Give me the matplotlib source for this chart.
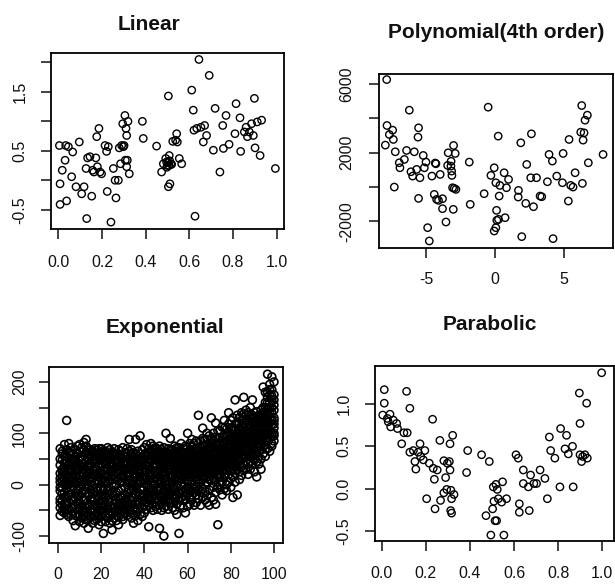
import matplotlib
matplotlib.use("Agg")
import matplotlib.pyplot as plt

plt.rcParams['font.family'] = ['Liberation Sans', 'DejaVu Sans']

# ---- Linear ----
lin_x = [0.005, 0.008, 0.008, 0.018, 0.031, 0.034, 0.038, 0.046, 0.061, 0.066,
         0.081, 0.096, 0.107, 0.118, 0.127, 0.130, 0.134, 0.145, 0.153, 0.157,
         0.163, 0.172, 0.176, 0.179, 0.186, 0.191, 0.198, 0.214, 0.221, 0.224,
         0.229, 0.241, 0.252, 0.260, 0.264, 0.275, 0.279, 0.285, 0.290, 0.295,
         0.298, 0.301, 0.305, 0.307, 0.310, 0.313, 0.313, 0.316, 0.319, 0.325,
         0.385, 0.389, 0.450, 0.473, 0.481, 0.492, 0.496, 0.499, 0.504, 0.504,
         0.507, 0.508, 0.511, 0.515, 0.519, 0.524, 0.537, 0.542, 0.545, 0.554,
         0.565, 0.611, 0.618, 0.621, 0.626, 0.634, 0.644, 0.653, 0.664, 0.670,
         0.679, 0.691, 0.710, 0.718, 0.740, 0.753, 0.756, 0.768, 0.782, 0.809,
         0.814, 0.832, 0.835, 0.852, 0.860, 0.866, 0.875, 0.885, 0.893, 0.898,
         0.901, 0.911, 0.924, 0.931, 0.994, 0.503, 0.497, 0.510]
lin_y = [0.59, -0.06, -0.41, 0.17, 0.34, 0.59, -0.35, 0.57, 0.06, 0.48,
         -0.11, 0.65, -0.23, -0.11, 0.20, -0.65, 0.38, 0.40, -0.27, 0.17,
         0.14, 0.38, 0.74, 0.23, 0.88, 0.14, 0.11, 0.59, 0.49, -0.19,
         0.57, -0.71, 0.20, 0.00, -0.30, 0.00, 0.55, 0.28, 0.59, 0.96,
         0.57, 0.59, 1.10, 0.34, 0.88, 0.76, 0.23, 0.34, 1.00, 0.11,
         1.00, 0.71, 0.58, 0.14, 0.28, 0.37, 0.31, 0.25, 1.43, -0.11,
         0.25, 0.42, -0.06, 0.28, 0.27, 0.66, 0.68, 0.79, 0.65, 0.37,
         0.28, 1.53, 1.19, 0.85, -0.61, 0.88, 2.05, 0.90, 0.65, 0.93,
         0.76, 1.78, 0.51, 1.22, 0.14, 0.93, 0.54, 1.10, 0.61, 0.79,
         1.30, 1.06, 0.49, 0.82, 0.90, 0.74, 0.82, 0.96, 0.76, 1.39,
         0.55, 0.99, 0.42, 1.02, 0.20, 0.30, 0.22, 0.33]

# ---- Polynomial(4th order) ----
poly_x = [-7.87, -7.85, -7.97, -7.68, -7.44, -7.39, -7.25, -7.32, -6.96, -6.91,
          -6.59, -6.43, -6.23, -6.11, -5.99, -5.87, -5.70, -5.56, -5.60, -5.46,
          -5.56, -5.22, -5.14, -5.02, -4.90, -4.78, -4.59, -4.42, -4.30, -4.25,
          -4.11, -3.99, -3.82, -3.82, -3.57, -3.45, -3.41, -3.21, -3.16, -3.14,
          -3.09, -3.04, -3.02, -2.97, -2.90, -2.85, -1.88, -1.81, -0.80, -0.51,
          -0.31, -0.07, -0.07, 0.05, 0.05, 0.10, 0.12, 0.22, 0.24, 0.29,
          0.34, 0.65, 0.72, 0.82, 0.97, 1.69, 1.67, 1.86, 1.93, 2.22,
          2.29, 2.58, 2.63, 2.78, 3.00, 3.26, 3.38, 3.79, 3.91, 4.15,
          4.20, 4.47, 4.88, 4.93, 5.31, 5.36, 5.48, 5.65, 5.80, 6.21,
          6.28, 6.33, 6.38, 6.52, 6.69, 6.76, 7.83, 6.45, -4.35, -3.20]
poly_y = [6256, 3583, 2441, 3060, 3312, 2770, 2053, 0, 1414, 1123,
          1608, 2131, 4475, 891, 639, 2053, 1027, 3448, 2906, 542,
          -659, 1840, 1123, 1453, -2363, -3138, 639, -426, 1356, -717,
          -775, 736, -678, -1259, -2034, 1259, 1995, 1220, 930, 678,
          -39, -1298, 2421, -77, 1956, -136, 1453, -1007, -387, 4649,
          678, 1123, -2557, -2363, 252, -1356, -1937, 2964, -1879, -523,
          97, 833, -1782, -39, 446, -194, -581, 2576, -2886, -949,
          1317, 542, 3099, -1143, 542, -523, -562, 310, 1898, 1511,
          -3002, 639, 252, 1956, -814, 2770, 97, 0, 833, 3196,
          4746, 213, 2731, 3893, 4184, 1414, 1898, 3157, 1400, 1500]

# ---- Exponential: readings at each x = 1..100 ----
exp_rows = [
    [-45, -12, 38, 5, -60, 22, 70, -28, 12, -35, 50, -5],
    [15, -52, 60, -5, 30, -30, 48, -18, -40, 8, 65, 25],
    [-38, 78, 2, -55, 25, 42, -15, 10, 55, -25, 32, -48],
    [55, -25, -48, 12, 35, -8, 125, 68, -35, 20, 45, -58],
    [-20, 40, -62, 18, 80, 0, -35, 52, 28, -48, 10, 62],
    [28, -45, 8, 62, -18, 45, -58, 72, -30, 15, 38, -10],
    [-55, 12, 50, -30, 35, -5, 20, -70, 42, -42, 60, 5],
    [48, -80, 2, 30, -40, 68, -15, 15, -60, 55, -25, 35],
    [-62, 25, 75, -22, 5, 42, -48, 60, -10, 30, -35, 12],
    [18, -35, 78, -8, 52, -58, 30, -72, 40, -20, 65, -45],
    [-25, 55, -65, 10, 72, -40, 35, 0, -52, 22, 48, -15],
    [40, -50, -12, 82, 22, -75, 5, 58, -30, 68, -60, 30],
    [-68, 15, 88, -30, 45, -5, 62, -45, 28, -55, 8, 75],
    [10, -58, 35, -20, 70, -85, 50, -2, -40, 22, 60, -68],
    [-40, 68, -10, 25, -62, 42, 5, -28, 55, -50, 15, 35],
    [55, -30, 12, -75, 30, -8, 65, -52, -18, 45, -40, 20],
    [-15, 48, -60, 20, -38, 60, 2, -70, 35, -28, 70, -48],
    [30, -68, 45, -5, 68, -42, 18, -22, -55, 55, -12, 8],
    [-50, 5, 62, -28, 38, -78, 15, 50, -35, 25, -62, 70],
    [22, -45, -8, 70, -62, 35, -20, 55, -38, 10, 48, -72],
    [-95, 10, 58, -35, 28, -55, 45, -12, 65, -25, 20, -45],
    [40, -60, 5, 65, -25, 20, -72, 52, -40, 30, -8, 60],
    [-30, 72, -48, 15, 48, -10, 30, -65, 58, -20, 5, -55],
    [60, -20, 35, -75, 8, 50, -40, 25, -58, 42, -12, 68],
    [-55, 28, -15, 62, -88, 40, 2, -32, 50, -45, 18, -70],
    [18, -45, 55, -5, 70, -65, 30, -22, 42, -38, 62, 0],
    [-70, 42, 0, 60, -30, 22, -50, 48, -15, 35, -60, 12],
    [35, -12, -62, 25, 55, -40, 10, -78, 45, -28, 68, -50],
    [-25, 58, -45, 15, 40, -8, 65, -58, 28, -35, 5, 50],
    [50, -35, 20, -68, 30, 5, -50, 72, -22, 42, -62, 15],
    [-40, 12, 62, -20, 45, -55, 28, -5, 55, -30, 38, -48],
    [25, -60, 40, -15, 70, -35, 55, 8, -45, 18, 62, -25],
    [-50, 35, -8, 88, -28, 18, -45, 52, 5, -38, 30, 65],
    [10, -38, 58, -55, 30, -12, 45, -65, 40, -25, 68, -2],
    [-75, 48, 15, -25, 62, -45, 5, 38, -58, 28, -10, 52],
    [32, -18, 88, -60, 20, -38, 52, -5, 42, -50, 15, 60],
    [-30, 55, -48, 10, 42, -70, 25, 65, -15, 35, -40, 0],
    [45, -8, 30, -58, 15, 60, -35, 95, 50, -22, 5, 38],
    [-22, 38, -62, 50, -10, 25, -45, 68, 12, -32, 55, -5],
    [58, -40, 18, -20, 72, 2, -55, 40, 28, -30, 48, 10],
    [-35, 28, 62, -15, 45, -48, 12, 78, -25, 38, 0, 55],
    [20, -25, 50, -82, 35, -5, 70, -40, 8, 58, -18, 42],
    [-15, 62, 5, -45, 80, 30, -30, 48, 18, -8, 65, 25],
    [40, -38, 22, 68, -10, 55, -50, 12, 35, -20, 75, 0],
    [-28, 15, 72, -42, 35, 0, 58, -18, 48, 25, -35, 62],
    [65, -48, 25, 8, -30, 48, -12, 38, 55, -5, 20, 70],
    [-40, 30, -5, 62, 15, -22, 75, -85, 42, 5, -30, 52],
    [50, -18, 38, -50, 68, 5, -35, 22, 58, -8, 30, -25],
    [-100, 28, -25, 55, 10, 42, -45, 72, 18, -12, 62, 35],
    [35, -30, 62, 0, -12, 48, 100, -42, 20, 55, -22, 8],
    [-20, 45, 15, -48, 70, 28, -8, 55, 38, 0, -30, 62],
    [58, -35, 30, 90, -15, 42, 5, -28, 68, 18, 48, -5],
    [-45, 20, 68, 5, 40, -22, 52, -5, 28, 60, -35, 15],
    [25, -28, 48, -50, 75, 12, -10, 38, 55, -20, 30, 65],
    [-38, 58, 10, 30, -20, 65, 40, -58, 22, 48, 0, 72],
    [-95, 22, 50, -12, 35, 72, -30, 8, 58, 40, -18, 25],
    [45, -25, 18, 62, -40, 30, 0, 80, 38, -10, 55, 12],
    [-15, 55, -45, 28, 70, -5, 42, 15, 60, 22, -30, 48],
    [38, -30, 62, 10, -55, 48, 22, -10, 75, 30, 55, -22],
    [100, -42, 30, 55, -18, 8, 72, 40, 20, -5, 62, 35],
    [-25, 48, 15, 68, -5, 35, -38, 58, 28, 80, 5, 45],
    [32, -12, 75, 5, 50, -30, 22, 88, 40, 60, -20, 15],
    [-40, 60, 20, -15, 40, 80, 0, 45, 68, 25, 52, -8],
    [55, -20, 35, 70, -35, 15, 58, -5, 30, 85, 42, 10],
    [135, 10, -28, 48, 25, 65, -10, 40, 72, 18, 55, 30],
    [-15, 72, 30, 52, -40, 18, 85, 5, 45, 62, 25, 38],
    [40, -25, 62, 10, 110, -8, 45, 28, 75, 55, 15, 90],
    [-30, 50, 18, 75, -12, 38, 65, 0, 88, 28, 55, 42],
    [25, -35, 58, 5, 88, 42, -20, 70, 35, 15, 100, 50],
    [-10, 45, 80, 20, -40, 60, 30, 95, 52, 10, 70, 38],
    [55, 10, -25, 72, 38, 130, 18, 48, 90, 62, 28, 80],
    [-5, 65, 30, 85, 12, -30, 50, 100, 40, 75, 22, 58],
    [40, -15, 78, 25, 58, 5, 120, -38, 92, 45, 68, 30],
    [-78, 62, 20, 45, 90, -5, 35, 70, 52, 105, 28, 80],
    [30, 80, -10, 55, 15, 105, 42, 0, 68, 92, 48, 22],
    [65, 5, 40, 92, 25, -20, 75, 50, 112, 35, 85, 58],
    [15, 58, -8, 82, 35, 110, 48, 20, 95, 68, 40, 125],
    [45, 95, 28, 62, 0, 75, 38, -12, 85, 55, 108, 70],
    [70, 20, 88, 50, 140, 35, 5, 60, 100, 78, 45, 118],
    [30, 100, 55, 12, 78, -5, 42, 125, 90, 65, 110, 48],
    [60, 15, 85, 40, -25, 110, 52, 28, 95, 72, 130, 45],
    [95, 35, 65, 165, 22, 75, 5, 48, 118, 88, 55, 105],
    [40, 118, -20, 80, 58, 30, 100, 68, 135, 90, 50, 75],
    [72, 25, 92, 48, 130, 10, 60, 85, 108, 38, 120, 98],
    [50, 105, 35, 78, 18, 140, 65, 95, 115, 82, 125, 58],
    [88, 40, 170, 60, 120, 28, 75, 102, 138, 92, 55, 110],
    [55, 135, 80, 30, 98, 65, 145, 45, 112, 85, 125, 70],
    [110, 70, 40, 125, 85, 20, 95, 60, 140, 100, 78, 118],
    [75, 150, 45, 100, 130, 65, 115, 30, 88, 122, 58, 105],
    [165, 90, 55, 120, 75, 105, 40, 135, 98, 80, 128, 62],
    [60, 118, 85, 140, 25, 98, 70, 125, 105, 88, 132, 48],
    [100, 45, 130, 80, 112, 15, 90, 60, 120, 72, 142, 95],
    [75, 135, 55, 105, 88, 122, 40, 95, 110, 65, 128, 80],
    [125, 68, 110, 50, 145, 85, 100, 30, 118, 92, 135, 75],
    [190, 90, 130, 60, 115, 75, 150, 100, 140, 82, 120, 108],
    [70, 140, 105, 180, 85, 125, 55, 160, 118, 98, 150, 130],
    [215, 110, 160, 85, 135, 70, 180, 120, 148, 100, 170, 128],
    [120, 195, 90, 150, 175, 65, 140, 105, 160, 128, 185, 98],
    [210, 100, 165, 80, 140, 118, 185, 75, 150, 125, 172, 95],
    [95, 175, 130, 110, 155, 200, 85, 118, 145, 100, 165, 125],
]
exp_x = []
exp_y = []
for i, row in enumerate(exp_rows):
    for v in row:
        exp_x.append(i + 1)
        exp_y.append(v)

# ---- Parabolic ----
par_x = [0.012, 0.012, 0.005, 0.026, 0.038, 0.030, 0.041, 0.053, 0.068, 0.072,
         0.101, 0.116, 0.113, 0.128, 0.091, 0.128, 0.144, 0.151, 0.155, 0.166,
         0.174, 0.177, 0.189, 0.196, 0.204, 0.216, 0.231, 0.234, 0.239, 0.242,
         0.252, 0.264, 0.267, 0.282, 0.282, 0.290, 0.295, 0.298, 0.307, 0.310,
         0.310, 0.313, 0.317, 0.314, 0.317, 0.322, 0.328, 0.385, 0.390, 0.453,
         0.473, 0.488, 0.495, 0.503, 0.506, 0.509, 0.514, 0.518, 0.521, 0.524,
         0.529, 0.544, 0.548, 0.554, 0.566, 0.609, 0.619, 0.624, 0.624, 0.642,
         0.642, 0.665, 0.669, 0.675, 0.690, 0.702, 0.718, 0.740, 0.751, 0.760,
         0.766, 0.785, 0.808, 0.811, 0.831, 0.838, 0.846, 0.865, 0.868, 0.896,
         0.899, 0.899, 0.906, 0.911, 0.921, 0.929, 0.932, 0.997]
par_y = [1.17, 1.01, 0.87, 0.83, 0.88, 0.79, 0.73, 0.81, 0.77, 0.71,
         0.66, 0.66, 1.15, 0.95, 0.53, 0.43, 0.45, 0.32, 0.23, 0.43,
         0.53, 0.38, 0.34, 0.45, -0.12, 0.30, 0.82, 0.24, 0.11, -0.24,
         0.22, 0.57, -0.14, 0.33, -0.05, 0.13, -0.01, 0.30, 0.32, 0.53,
         0.22, -0.26, -0.12, -0.02, -0.29, 0.63, -0.07, 0.19, 0.45, 0.40,
         -0.32, 0.32, -0.55, -0.24, 0.02, -0.15, -0.38, 0.05, -0.38, -0.01,
         -0.12, -0.16, 0.08, -0.55, -0.12, 0.40, 0.36, -0.18, -0.28, 0.22,
         0.06, 0.02, -0.26, 0.16, 0.06, 0.06, 0.22, 0.12, -0.12, 0.61,
         0.45, 0.36, 0.02, 0.71, 0.47, 0.63, 0.41, 0.50, 0.02, 1.13,
         0.77, 0.40, 0.32, 0.38, 0.40, 1.01, 0.36, 1.37]

W, H = 615, 586
fig = plt.figure(figsize=(W / 100, H / 100), dpi=100)


def panel(box, xs, ys, xlim, ylim, xticks, xlabels, yticks, ylabels, xpad, ypad,
          msize=28, mlw=1.0):
    left, top, right, bottom = box
    ax = fig.add_axes([left / W, 1 - bottom / H, (right - left) / W, (bottom - top) / H])
    ax.scatter(xs, ys, s=msize, facecolors='none', edgecolors='black', linewidths=mlw)
    ax.set_xlim(xlim)
    ax.set_ylim(ylim)
    ax.set_xticks(xticks)
    ax.set_xticklabels(xlabels)
    ax.set_yticks(yticks)
    ax.set_yticklabels(ylabels, rotation=90, va='center')
    ax.tick_params(axis='x', length=7, width=1.1, labelsize=11.5, pad=xpad, colors='#111')
    ax.tick_params(axis='y', length=7, width=1.1, labelsize=11.5, pad=ypad, colors='#111')
    for s in ax.spines.values():
        s.set_linewidth(1.3)
    return ax


panel((51, 53, 284, 229), lin_x, lin_y, (-0.0335, 1.0335), (-0.827, 2.16),
      [0, 0.2, 0.4, 0.6, 0.8, 1.0], ['0.0', '0.2', '0.4', '0.6', '0.8', '1.0'],
      [-0.5, 0, 0.5, 1.0, 1.5, 2.0], ['-0.5', '', '0.5', '', '1.5', ''], 12, 10)

panel((379, 74, 613, 248), poly_x, poly_y, (-8.43, 8.55), (-3547, 6581),
      [-5, 0, 5], ['-5', '0', '5'],
      [-2000, 0, 2000, 4000, 6000], ['-2000', '', '2000', '', '6000'], 10, 11)

panel((49, 367, 283, 543), exp_x, exp_y, (-4.17, 104.17), (-113.6, 229),
      [0, 20, 40, 60, 80, 100], ['0', '20', '40', '60', '80', '100'],
      [-100, -50, 0, 50, 100, 150, 200], ['-100', '', '0', '', '100', '', '200'], 10, 9,
      msize=32, mlw=1.2)

panel((375, 366, 614, 541), par_x, par_y, (-0.030, 1.053), (-0.62, 1.45),
      [0, 0.2, 0.4, 0.6, 0.8, 1.0], ['0.0', '0.2', '0.4', '0.6', '0.8', '1.0'],
      [-0.5, 0, 0.5, 1.0], ['-0.5', '0.0', '0.5', '1.0'], 11, 10)

# panel titles, placed by baseline in pixel coordinates
titles = [("Linear", 149, 30.5), ("Polynomial(4th order)", 496, 37.5),
          ("Exponential", 165, 333), ("Parabolic", 490, 330.5)]
for txt, px, py in titles:
    fig.text(px / W, 1 - py / H, txt, ha='center', va='baseline',
             fontsize=15, fontweight='bold', color='#111')

fig.savefig("out.png", dpi=100)
